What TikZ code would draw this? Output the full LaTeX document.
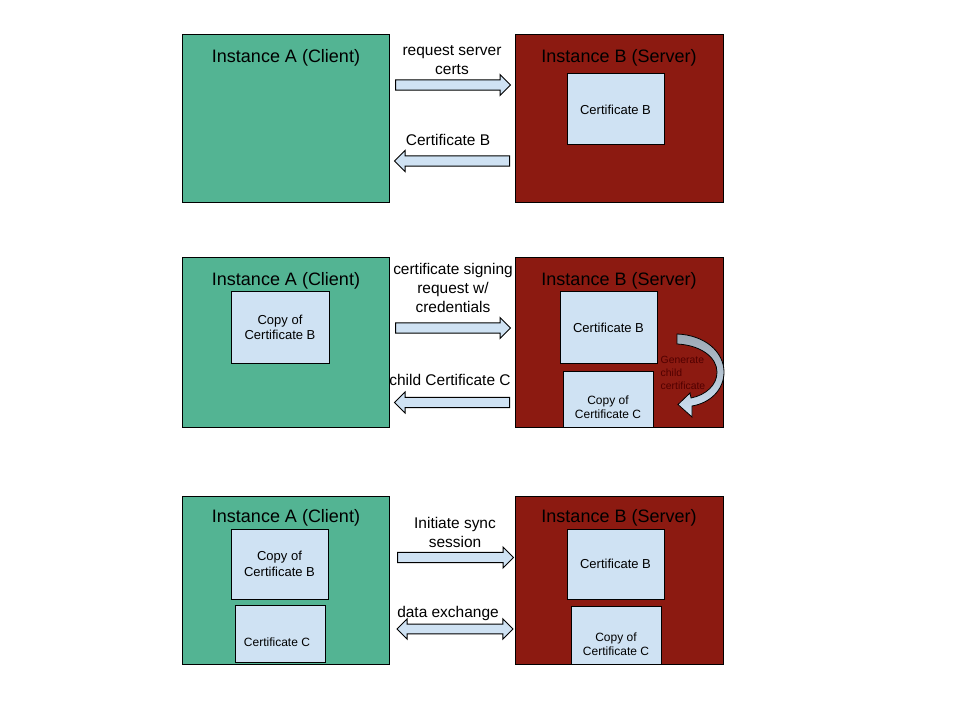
\documentclass[tikz,border=0pt]{standalone}
\usepackage{fontspec}
\setmainfont{Liberation Sans}
\usetikzlibrary{shapes.arrows,fit}
\definecolor{cgreen}{RGB}{83,180,147}
\definecolor{cred}{RGB}{140,26,17}
\definecolor{cblue}{RGB}{207,226,243}
\definecolor{cgray}{RGB}{156,168,180}
\definecolor{ctxtred}{RGB}{80,0,0}
\begin{document}
\begin{tikzpicture}[x=0.75pt,y=-0.75pt,
  inst/.style={draw=black,line width=0.75pt,inner sep=0pt},
  clientbox/.style={inst,fill=cgreen},
  serverbox/.style={inst,fill=cred},
  certbox/.style={draw=black,line width=0.75pt,fill=cblue,inner sep=0pt},
  title/.style={font=\fontsize{13.5pt}{16pt}\selectfont},
  lbl/.style={font=\fontsize{11.6pt}{14pt}\selectfont,align=center},
  ctext/.style={font=\fontsize{9.75pt}{11.5pt}\selectfont,align=center},
  ctextsm/.style={font=\fontsize{9pt}{10.5pt}\selectfont,align=center},
  gentext/.style={font=\fontsize{7.8pt}{10pt}\selectfont,align=left,text=ctxtred},
  rarrow/.style={single arrow,draw=black,line width=0.75pt,fill=cblue,inner xsep=0pt,inner ysep=3.5pt,minimum height=86.25pt,single arrow head extend=4pt},
  larrow/.style={rarrow,shape border rotate=180},
  darrow/.style={double arrow,draw=black,line width=0.75pt,fill=cblue,inner xsep=0pt,inner ysep=3.3pt,minimum height=87pt,double arrow head extend=4pt},
]
\useasboundingbox (0,0) rectangle (960,720);

% ---------- Row 1 ----------
\node[clientbox,fit={(182,35)(389,203)}] (A1) {};
\node[serverbox,fit={(515,35)(723,203)}] (B1) {};
\node[title] (A1t) at (286,57.5) {Instance A (Client)};
\node[title] (B1t) at (619,57.5) {Instance B (Server)};
\node[certbox,fit={(567,74)(664,145)}] (B1c) {};
\node[ctext] (B1ct) at (B1c.center) {Certificate B};
\node[rarrow,anchor=tail] (r1) at (395,85) {};
\node[lbl] (r1t) at (452,60) {request server\\certs};
\node[larrow,anchor=tail] (l1) at (510,161) {};
\node[lbl] (l1t) at (448,140) {Certificate B};

% ---------- Row 2 ----------
\node[clientbox,fit={(182,258)(389,427)}] (A2) {};
\node[serverbox,fit={(515,258)(723,427)}] (B2) {};
\node[title] (A2t) at (286,280.5) {Instance A (Client)};
\node[title] (B2t) at (619,280.5) {Instance B (Server)};
\node[certbox,fit={(231,292)(329,363)}] (A2c) {};
\node[ctext] (A2ct) at (A2c.center) {Copy of\\Certificate B};
\node[certbox,fit={(560,292)(657,363)}] (B2c) {};
\node[ctext] (B2ct) at (B2c.center) {Certificate B};
\node[certbox,fit={(563,371)(653,427)}] (B2cc) {};
\node[ctextsm] (B2cct) at (608,407.5) {Copy of\\Certificate C};
\node[rarrow,anchor=tail] (r2) at (395,328) {};
\node[lbl] (r2t) at (453,288) {certificate signing\\request w/\\credentials};
\node[larrow,anchor=tail] (l2) at (510,402.5) {};
\node[lbl] (l2t) at (450,380) {child Certificate C};
% curved arrow
\path[draw=black,line width=0.6pt,top color=cgray,bottom color=cblue]
  (677,334) .. controls (705,335) and (724,352) .. (724,372)
  .. controls (724,390) and (710,403) .. (692,406)
  -- (692,417) -- (678,404.5) -- (690,393) -- (691,398)
  .. controls (706,395) and (717,385) .. (717,372)
  .. controls (717,357) and (700,345) .. (677,344) -- cycle;
\node[gentext,anchor=west] (gen) at (656,373) {Generate\\child\\certificate};

% ---------- Row 3 ----------
\node[clientbox,fit={(182,496)(389,664)}] (A3) {};
\node[serverbox,fit={(515,496)(723,664)}] (B3) {};
\node[title] (A3t) at (286,517.5) {Instance A (Client)};
\node[title] (B3t) at (619,517.5) {Instance B (Server)};
\node[certbox,fit={(231,529)(328,599)}] (A3c) {};
\node[ctext] (A3ct) at (A3c.center) {Copy of\\Certificate B};
\node[certbox,fit={(235,605)(325,662)}] (A3cc) {};
\node[ctextsm] (A3cct) at (277,642) {Certificate C};
\node[certbox,fit={(567,529)(664,599)}] (B3c) {};
\node[ctext] (B3ct) at (B3c.center) {Certificate B};
\node[certbox,fit={(571,606)(661,664)}] (B3cc) {};
\node[ctextsm] (B3cct) at (616,644) {Copy of\\Certificate C};
\node[rarrow,anchor=tail,minimum height=87pt] (r3) at (397,557.5) {};
\node[lbl] (r3t) at (455,532.5) {Initiate sync\\session};
\node[darrow] (d3) at (455,629) {};
\node[lbl] (d3t) at (448,613) {data exchange};
\end{tikzpicture}
\end{document}
